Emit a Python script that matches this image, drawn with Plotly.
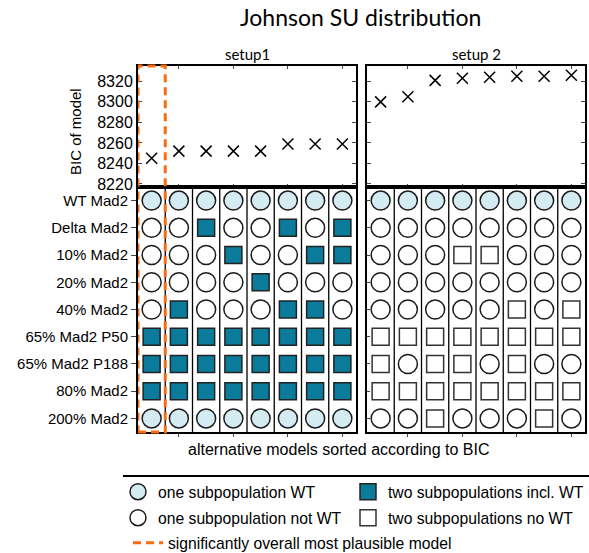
import plotly.graph_objects as go

W, H = 589, 553

# ---------------- data ----------------
rows = ["WT Mad2", "Delta Mad2", "10% Mad2", "20% Mad2", "40% Mad2",
        "65% Mad2 P50", "65% Mad2 P188", "80% Mad2", "200% Mad2"]
models = [1, 2, 3, 4, 5, 6, 7, 8]
bic_setup1 = [8245, 8252, 8252, 8252, 8252, 8259, 8259, 8259]
bic_setup2 = [8300, 8305, 8321, 8323, 8324, 8325, 8325, 8326]
bic_ticks = [8220, 8240, 8260, 8280, 8300, 8320]
# W = one subpopulation WT, O = one subpopulation not WT,
# T = two subpopulations incl. WT, S = two subpopulations no WT
setup1_grid = ["WWWWWWWW", "OOTOOTOT", "OOOTOOTT", "OOOOTOOO", "OTOOOTTO",
               "TTTTTTTT", "TTTTTTTT", "TTTTTTTT", "WWWWWWWW"]
setup2_grid = ["WWWWWWWW", "OOOOOOOO", "OOOSSOOO", "OOOOOOOO", "OOOOOSOS",
               "SSSSSSSS", "SOSSOSOO", "SSSSSSSS", "OOSOOOSO"]
best_model = 1  # significantly most plausible (setup1)

# ---------------- styles ----------------
LIGHT = "#d5ebf2"
TEAL = "#0a7b9b"
ORANGE = "#fb6b10"
FONT = "Arial, Liberation Sans, sans-serif"
TFONT = "Lato, Open Sans, sans-serif"

cats = {
    "W": dict(name="one subpopulation WT", symbol="circle", color=LIGHT, size=19, lc="#1a1a1a", lg="legend"),
    "T": dict(name="two subpopulations incl. WT", symbol="square", color=TEAL, size=17, lc="#222222", lg="legend2"),
    "O": dict(name="one subpopulation not WT", symbol="circle", color="white", size=19, lc="#1a1a1a", lg="legend3"),
    "S": dict(name="two subpopulations no WT", symbol="square", color="white", size=17, lc="#333333", lg="legend4"),
}


def px_x(p):
    return p / W


def px_y(p):
    return 1 - p / H


X1 = [px_x(138), px_x(356)]
X2 = [px_x(367), px_x(585)]
YTOP = [px_y(187), px_y(66)]
YGRID = [px_y(432), px_y(187)]

fig = go.Figure()

# grid symbols
shown = set()
for panel, grid in ((1, setup1_grid), (2, setup2_grid)):
    xa = "x3" if panel == 1 else "x4"
    ya = "y3" if panel == 1 else "y4"
    for code, st in cats.items():
        xs, ys = [], []
        for r, line in enumerate(grid):
            for m, c in zip(models, line):
                if c == code:
                    xs.append(m)
                    ys.append(r)
        if not xs:
            continue
        show = code not in shown
        shown.add(code)
        fig.add_trace(go.Scatter(
            x=xs, y=ys, xaxis=xa, yaxis=ya, mode="markers",
            name=st["name"], legendgroup=code, showlegend=show, legend=st["lg"],
            marker=dict(symbol=st["symbol"], size=st["size"], color=st["color"],
                        line=dict(color=st["lc"], width=1.5)),
            hoverinfo="skip"))

# BIC scatter
for xa, ya, vals in (("x", "y", bic_setup1), ("x2", "y2", bic_setup2)):
    fig.add_trace(go.Scatter(
        x=models, y=vals, xaxis=xa, yaxis=ya, mode="markers", showlegend=False,
        marker=dict(symbol="x-thin", size=11, line=dict(color="black", width=1.5))))

# legend entry for dashed box
fig.add_trace(go.Scatter(
    x=[None], y=[None], mode="lines", name="significantly overall most plausible model",
    legend="legend5", line=dict(color=ORANGE, width=3, dash="8px,5px")))

axis_common = dict(showline=True, linecolor="black", linewidth=2,
                   zeroline=False, showgrid=False, automargin=False)

nm = len(models)
xrange_ = [0.5, nm + 0.5]
even_ticks = [m for m in models if m % 2 == 0]

fig.update_layout(
    xaxis=dict(domain=X1, anchor="y", range=xrange_, tickvals=even_ticks, showticklabels=False,
               ticks="inside", ticklen=3, mirror="ticks", **axis_common),
    yaxis=dict(domain=YTOP, anchor="x", range=[8217, 8335], tickvals=bic_ticks,
               ticks="inside", ticklen=4, mirror="ticks",
               tickfont=dict(family=FONT, size=16, color="black"), **axis_common),
    xaxis2=dict(domain=X2, anchor="y2", range=xrange_, tickvals=even_ticks, showticklabels=False,
                ticks="inside", ticklen=3, mirror="ticks", **axis_common),
    yaxis2=dict(domain=YTOP, anchor="x2", range=[8217, 8335], tickvals=bic_ticks,
                showticklabels=False, ticks="inside", ticklen=4, mirror="ticks", **axis_common),
    xaxis3=dict(domain=X1, anchor="y3", range=xrange_, tickvals=even_ticks, showticklabels=False,
                ticks="outside", ticklen=3, mirror=True, **axis_common),
    yaxis3=dict(domain=YGRID, anchor="x3", range=[len(rows) - 0.5, -0.5],
                tickvals=list(range(len(rows))), ticktext=rows, ticks="outside", ticklen=5,
                mirror=True, tickfont=dict(family=FONT, size=15, color="black"), **axis_common),
    xaxis4=dict(domain=X2, anchor="y4", range=xrange_, tickvals=even_ticks, showticklabels=False,
                ticks="outside", ticklen=3, mirror=True, **axis_common),
    yaxis4=dict(domain=YGRID, anchor="x4", range=[len(rows) - 0.5, -0.5],
                tickvals=list(range(len(rows))), showticklabels=False, ticks="inside", ticklen=3,
                mirror=True, **axis_common),
)

shapes = []
# column separators in the grids
for xa, ya in (("x3", "y3 domain"), ("x4", "y4 domain")):
    for m in models[:-1]:
        shapes.append(dict(type="line", xref=xa, yref=ya,
                           x0=m + 0.5, x1=m + 0.5, y0=0, y1=1,
                           line=dict(color="black", width=1.3)))
# dashed box around best model
shapes.append(dict(type="rect", xref="x", yref="paper", x0=best_model - 0.5, x1=best_model + 0.5,
                   y0=YGRID[0], y1=YTOP[1], line=dict(color=ORANGE, width=3, dash="8px,5px"),
                   layer="above"))
# line above legend
shapes.append(dict(type="line", xref="paper", yref="paper", x0=px_x(123), x1=1,
                   y0=px_y(476), y1=px_y(476), line=dict(color="black", width=2)))


def ann(text, x, y, size, family=FONT, angle=0):
    return dict(text=text, x=px_x(x), y=px_y(y), xref="paper", yref="paper",
                xanchor="center", yanchor="middle", showarrow=False, textangle=angle,
                font=dict(family=family, size=size, color="black"))


annotations = [
    ann("Johnson SU distribution", 360, 17, 23, TFONT),
    ann("setup1", 247, 54, 15, TFONT),
    ann("setup 2", 476, 54, 15, TFONT),
    ann("BIC of model", 75, 132, 15, FONT, -90),
    ann("alternative models sorted according to BIC", 338, 449, 16),
]

leg_common = dict(orientation="h", xanchor="left", yanchor="top", traceorder="normal",
                  font=dict(family=FONT, size=15.7, color="black"), itemsizing="trace",
                  bgcolor="rgba(0,0,0,0)", borderwidth=0)

fig.update_layout(
    width=W, height=H, margin=dict(l=0, r=0, t=0, b=0, autoexpand=False),
    paper_bgcolor="white", plot_bgcolor="white",
    shapes=shapes, annotations=annotations,
    legend=dict(x=px_x(118), y=px_y(475), **leg_common),
    legend2=dict(x=px_x(348), y=px_y(475), **leg_common),
    legend3=dict(x=px_x(118), y=px_y(501), **leg_common),
    legend4=dict(x=px_x(348), y=px_y(501), **leg_common),
    legend5=dict(x=px_x(128), y=px_y(526), **leg_common),
)

fig.write_html("out.html", config={"displayModeBar": False},
               post_script="document.body.style.margin='0';")
